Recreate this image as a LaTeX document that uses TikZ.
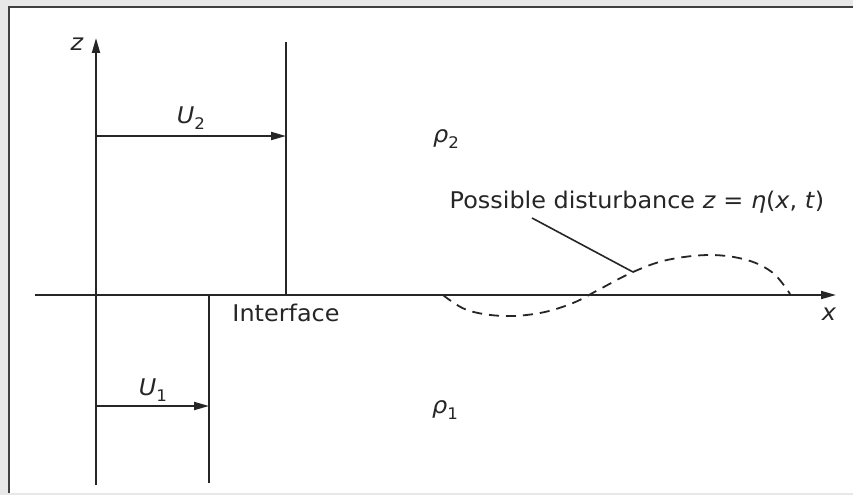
\documentclass[tikz,border=0pt]{standalone}
\usepackage{fontspec}
\setmainfont{DejaVu Sans}[FakeStretch=1.04]
\usetikzlibrary{arrows.meta}
\newcommand{\ssub}[1]{\raisebox{-0.45ex}{\upshape\fontsize{16}{16}\selectfont #1}}
\begin{document}
\begin{tikzpicture}[x=1pt,y=-1pt,
  lbl/.style={inner sep=0pt,font=\fontsize{23}{26}\selectfont,text=black!85},
  ln/.style={line width=1.9pt,black!85},
  arr/.style={ln,-{Triangle[length=15pt,width=8pt]}},
  dsh/.style={line width=1.8pt,black!85,dash pattern=on 10pt off 7pt}]
\useasboundingbox (0,0) rectangle (853,495);
\fill[black!9] (0,0) rectangle (853,495);
\fill[white] (9,7) rectangle (853,493);
\draw[line width=2.2pt,black!75] (9,493) -- (9,7) -- (853,7);
% coordinates
\coordinate (zb) at (96,485);
\coordinate (zt) at (96,38);
\coordinate (xl) at (35,295);
\coordinate (xr) at (836,295);
\coordinate (u2t) at (286,42);
\coordinate (u2b) at (286,295);
\coordinate (u2s) at (96,136);
\coordinate (u2e) at (286,136);
\coordinate (u1t) at (209,295);
\coordinate (u1b) at (209,483);
\coordinate (u1s) at (96,406);
\coordinate (u1e) at (209,406);
\coordinate (lead) at (532,218);
\coordinate (onc) at (633,272);
% axes
\draw[arr] (zb) -- (zt);
\draw[arr] (xl) -- (xr);
% velocity profiles
\draw[ln] (u2t) -- (u2b);
\draw[arr] (u2s) -- (u2e);
\draw[ln] (u1t) -- (u1b);
\draw[arr] (u1s) -- (u1e);
% disturbance
\draw[dsh] plot[smooth,tension=0.6] coordinates {(443,295) (467,310) (503,316) (540,313) (573,303) (600,289) (633,272) (667,260) (710,255) (747,260) (773,273) (790,294)};
\draw[line width=1.6pt,black!85] (lead) -- (onc);
% labels
\node[lbl] (zlab) at (77,44) {\itshape z};
\node[lbl] (xlab) at (829,314) {\itshape x};
\node[lbl] (u2lab) at (191,118) {\itshape U\ssub{2}};
\node[lbl] (u1lab) at (153,390) {\itshape U\ssub{1}};
\node[lbl] (r2lab) at (446,139) {\itshape ρ\ssub{2}};
\node[lbl] (r1lab) at (445,410) {\itshape ρ\ssub{1}};
\node[lbl] (iflab) at (286,313) {Interface};
\node[lbl] (dlab) at (637,202) {Possible disturbance \textit{z} = \textit{η}(\textit{x}, \textit{t})};
\end{tikzpicture}
\end{document}
